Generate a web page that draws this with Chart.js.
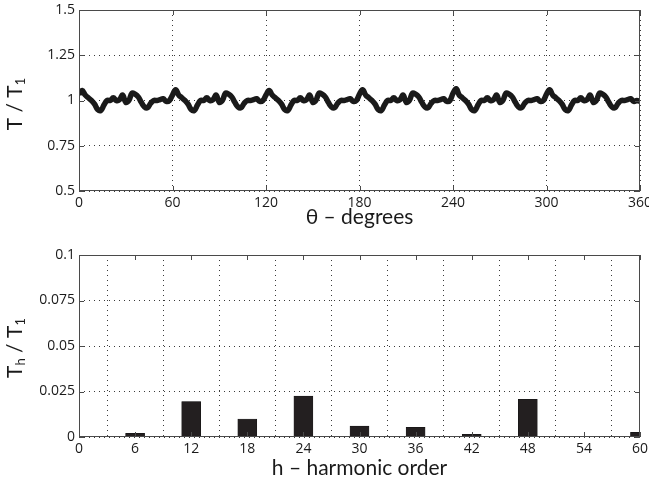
<!DOCTYPE html>
<html>
<head>
<meta charset="utf-8">
<script src="https://cdn.jsdelivr.net/npm/chart.js@4"></script>
<style>
  html, body { margin: 0; padding: 0; background: #fff; }
  .panel { position: absolute; left: 0; width: 649px; }
</style>
</head>
<body>
<div class="panel" style="top:0;height:240px"><canvas id="torqueChart" width="649" height="240"></canvas></div>
<div class="panel" style="top:240px;height:241px"><canvas id="harmonicChart" width="649" height="241"></canvas></div>
<script>
"use strict";

// Rotor angle samples (degrees)
const thetaDeg = [
    0, 2, 4, 6, 8, 10, 12, 14, 16, 18, 20, 22, 24, 26, 28, 30, 32, 34, 36, 38, 40, 42, 44, 46, 48, 50, 52, 54, 56, 58,
    60, 62, 64, 66, 68, 70, 72, 74, 76, 78, 80, 82, 84, 86, 88, 90, 92, 94, 96, 98, 100, 102, 104, 106, 108, 110, 112, 114, 116, 118,
    120, 122, 124, 126, 128, 130, 132, 134, 136, 138, 140, 142, 144, 146, 148, 150, 152, 154, 156, 158, 160, 162, 164, 166, 168, 170, 172, 174, 176, 178,
    180, 182, 184, 186, 188, 190, 192, 194, 196, 198, 200, 202, 204, 206, 208, 210, 212, 214, 216, 218, 220, 222, 224, 226, 228, 230, 232, 234, 236, 238,
    240, 242, 244, 246, 248, 250, 252, 254, 256, 258, 260, 262, 264, 266, 268, 270, 272, 274, 276, 278, 280, 282, 284, 286, 288, 290, 292, 294, 296, 298,
    300, 302, 304, 306, 308, 310, 312, 314, 316, 318, 320, 322, 324, 326, 328, 330, 332, 334, 336, 338, 340, 342, 344, 346, 348, 350, 352, 354, 356, 358,
    360
];

// Normalised torque T / T1
const torqueRatio = [
    1.035, 1.055, 1.03, 1.015, 1.0, 0.98, 0.95, 0.945, 0.975, 1.0, 1.0, 1.015, 1.0, 1.005, 1.03, 0.99, 1.0, 1.04, 1.035, 1.02, 0.99, 0.965, 0.96, 0.985, 1.0, 1.0, 1.005, 1.01, 0.995, 1.0,
    1.03, 1.06, 1.03, 1.015, 1.0, 0.98, 0.95, 0.945, 0.975, 1.0, 1.0, 1.015, 1.0, 1.005, 1.03, 0.99, 1.0, 1.04, 1.035, 1.02, 0.99, 0.965, 0.96, 0.985, 1.0, 1.0, 1.005, 1.01, 0.995, 1.0,
    1.03, 1.055, 1.03, 1.015, 1.0, 0.98, 0.95, 0.945, 0.975, 1.0, 1.0, 1.015, 1.0, 1.005, 1.03, 0.99, 1.0, 1.04, 1.035, 1.02, 0.99, 0.965, 0.96, 0.985, 1.0, 1.0, 1.005, 1.01, 0.995, 1.0,
    1.035, 1.06, 1.03, 1.015, 1.0, 0.98, 0.95, 0.945, 0.975, 1.0, 1.0, 1.015, 1.0, 1.005, 1.03, 0.99, 1.0, 1.04, 1.035, 1.02, 0.99, 0.965, 0.96, 0.985, 1.0, 1.0, 1.005, 1.01, 0.995, 1.0,
    1.04, 1.065, 1.03, 1.015, 1.0, 0.98, 0.95, 0.945, 0.975, 1.0, 1.0, 1.015, 1.0, 1.005, 1.03, 0.99, 1.0, 1.04, 1.035, 1.02, 0.99, 0.965, 0.96, 0.985, 1.0, 1.0, 1.005, 1.01, 0.995, 1.0,
    1.035, 1.06, 1.03, 1.015, 1.0, 0.98, 0.95, 0.945, 0.975, 1.0, 1.0, 1.015, 1.0, 1.005, 1.03, 0.99, 1.0, 1.04, 1.035, 1.02, 0.99, 0.965, 0.96, 0.985, 1.0, 1.0, 1.005, 1.01, 0.995, 1.0,
    0.995
];

// Harmonic spectrum Th / T1
const harmonicOrder = [6, 12, 18, 24, 30, 36, 42, 45, 48, 54, 60];
const harmonicAmp   = [0.002, 0.0195, 0.0099, 0.0225, 0.006, 0.0053, 0.0015, 0.0004, 0.0207, 0.0004, 0.0026];

// Tick values and labels
const thetaTicks   = [0, 60, 120, 180, 240, 300, 360];
const thetaLabels  = ['0', '60', '120', '180', '240', '300', '360'];
const torqueTicks  = [0.5, 0.75, 1, 1.25, 1.5];
const torqueLabels = ['0.5', '0.75', '1', '1.25', '1.5'];
const orderTicks   = [0, 6, 12, 18, 24, 30, 36, 42, 48, 54, 60];
const orderLabels  = ['0', '6', '12', '18', '24', '30', '36', '42', '48', '54', '60'];
const ampTicks     = [0, 0.025, 0.05, 0.075, 0.1];
const ampLabels    = ['0', '0.025', '0.05', '0.075', '0.1'];

const fontFamily = "Lato, 'Open Sans', sans-serif";
const tickFamily = "'Open Sans', Lato, sans-serif";
const textColor = '#1a1a1a';

// Box around the plot with MATLAB style inward tick marks
const frameBox = {
    id: 'frameBox',
    afterDraw(chart) {
        const { ctx, chartArea: a, scales } = chart;
        ctx.save();
        ctx.strokeStyle = '#4a4a4a';
        ctx.lineWidth = 1;
        ctx.beginPath();
        scales.x.ticks.forEach(t => {
            const px = Math.round(scales.x.getPixelForValue(t.value)) + 0.5;
            ctx.moveTo(px, a.bottom); ctx.lineTo(px, a.bottom - 5);
            ctx.moveTo(px, a.top); ctx.lineTo(px, a.top + 5);
        });
        scales.y.ticks.forEach(t => {
            const py = Math.round(scales.y.getPixelForValue(t.value)) + 0.5;
            ctx.moveTo(a.left, py); ctx.lineTo(a.left + 5, py);
            ctx.moveTo(a.right, py); ctx.lineTo(a.right - 5, py);
        });
        ctx.stroke();
        ctx.strokeRect(a.left + 0.5, a.top + 0.5, a.right - a.left - 1, a.bottom - a.top - 1);
        ctx.restore();
    }
};

// Rotated y title with subscripts
const subscriptTitle = {
    id: 'subscriptTitle',
    afterDraw(chart, args, opts) {
        const ctx = chart.ctx;
        const mainFont = `${opts.size}px ${fontFamily}`;
        const subFont = `${opts.subSize}px ${fontFamily}`;
        let total = 0;
        opts.parts.forEach(p => {
            ctx.font = p.sub ? subFont : mainFont;
            total += ctx.measureText(p.text).width;
        });
        ctx.save();
        ctx.translate(opts.x, opts.y);
        ctx.rotate(-Math.PI / 2);
        ctx.fillStyle = textColor;
        ctx.textBaseline = 'alphabetic';
        let x = -total / 2;
        opts.parts.forEach(p => {
            ctx.font = p.sub ? subFont : mainFont;
            ctx.fillText(p.text, x, p.sub ? opts.drop : 0);
            x += ctx.measureText(p.text).width;
        });
        ctx.restore();
    }
};

function axisX(ticks, labels, min, max, title, titlePad, height) {
    return {
        type: 'linear',
        min: min,
        max: max,
        offset: false,
        afterBuildTicks: s => { s.ticks = ticks.map(v => ({ value: v })); },
        afterFit: s => { s.height = height; s.paddingLeft = 0; s.paddingRight = 0; },
        ticks: {
            callback: (v, i) => labels[i],
            autoSkip: false,
            maxRotation: 0,
            padding: 4,
            color: textColor,
            font: { family: tickFamily, size: 14 }
        },
        grid: { color: '#3a3a3a', lineWidth: 1, drawTicks: false },
        border: { display: false, dash: [1, 4] },
        title: {
            display: true,
            text: title,
            color: textColor,
            font: { family: fontFamily, size: 21 },
            padding: { top: 0, bottom: titlePad }
        }
    };
}

function axisY(ticks, labels, min, max) {
    return {
        type: 'linear',
        min: min,
        max: max,
        afterBuildTicks: s => { s.ticks = ticks.map(v => ({ value: v })); },
        afterFit: s => { s.width = 79; s.paddingTop = 0; s.paddingBottom = 0; },
        ticks: {
            callback: (v, i) => labels[i],
            autoSkip: false,
            padding: 4,
            color: textColor,
            font: { family: tickFamily, size: 14 }
        },
        grid: { color: '#3a3a3a', lineWidth: 1, drawTicks: false },
        border: { display: false, dash: [1, 4] }
    };
}

// Top: torque ripple over one revolution
new Chart(document.getElementById('torqueChart'), {
    type: 'line',
    data: {
        datasets: [{
            data: thetaDeg.map((t, i) => ({ x: t, y: torqueRatio[i] })),
            borderColor: '#1a1a1a',
            borderWidth: 5.5,
            pointRadius: 0,
            tension: 0.4,
            fill: false,
            clip: { left: 0, right: 0, top: false, bottom: false }
        }]
    },
    options: {
        responsive: false,
        animation: false,
        layout: { padding: { top: 10, right: 9, bottom: 0, left: 0 } },
        plugins: {
            legend: { display: false },
            tooltip: { enabled: false },
            subscriptTitle: {
                parts: [{ text: 'T / T' }, { text: '1', sub: true }],
                size: 21, subSize: 13, x: 22, y: 104, drop: 3
            }
        },
        scales: {
            x: axisX(thetaTicks, thetaLabels, 0, 360, 'θ – degrees', 10, 49),
            y: axisY(torqueTicks, torqueLabels, 0.5, 1.5)
        }
    },
    plugins: [frameBox, subscriptTitle]
});

// Bottom: harmonic content
new Chart(document.getElementById('harmonicChart'), {
    type: 'bar',
    data: {
        datasets: [{
            data: harmonicOrder.map((h, i) => ({ x: h, y: harmonicAmp[i] })),
            backgroundColor: '#231f20',
            borderColor: '#111',
            borderWidth: 0.5,
            barThickness: 19,
            clip: 0
        }]
    },
    options: {
        responsive: false,
        animation: false,
        layout: { padding: { top: 15, right: 9, bottom: 0, left: 0 } },
        plugins: {
            legend: { display: false },
            tooltip: { enabled: false },
            subscriptTitle: {
                parts: [{ text: 'T' }, { text: 'h', sub: true }, { text: ' / T' }, { text: '1', sub: true }],
                size: 21, subSize: 13, x: 22, y: 108, drop: 3
            }
        },
        scales: {
            x: axisX(orderTicks, orderLabels, 0, 60, 'h – harmonic order', 0, 44),
            y: axisY(ampTicks, ampLabels, 0, 0.1)
        }
    },
    plugins: [frameBox, subscriptTitle]
});
</script>
</body>
</html>
